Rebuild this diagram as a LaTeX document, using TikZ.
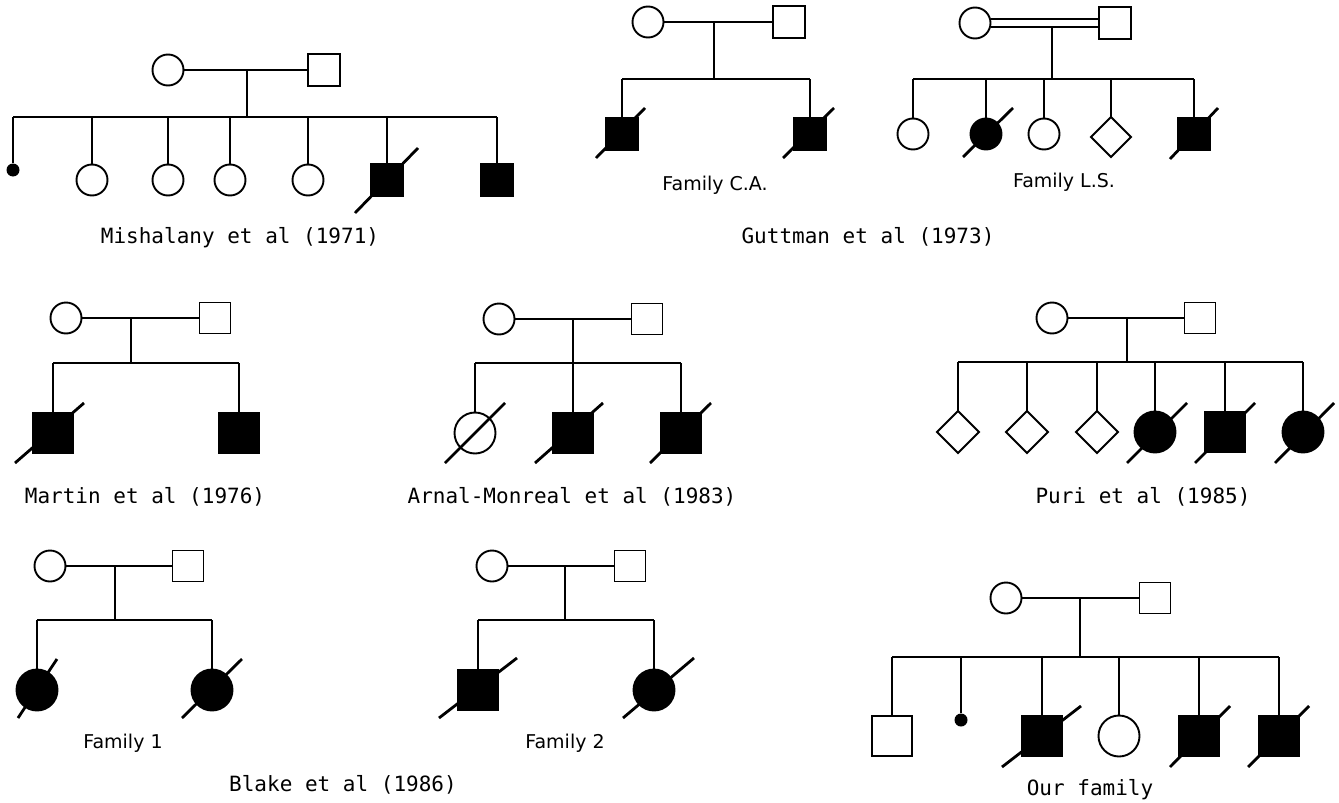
\documentclass[tikz,border=0pt]{standalone}
\usepackage{fontspec}
\setmonofont{DejaVu Sans Mono}
\newfontfamily\famfont{DejaVu Sans}
\usetikzlibrary{shapes.geometric}
\newcommand\deceased[5]{\draw[deadmark] ([shift={(#2,#3)}]#1.center) -- ([shift={(#4,#5)}]#1.center);}
\begin{document}
\begin{tikzpicture}[x=1pt,y=-1pt,
  ln/.style={line width=1.9pt},
  sym/.style={draw, line width=1.9pt, inner sep=0pt, outer sep=0pt},
  fem/.style={sym, circle, minimum size=#1}, fem/.default=31,
  mal/.style={sym, rectangle, minimum size=#1}, mal/.default=32,
  unk/.style={sym, diamond, aspect=1, minimum size=#1}, unk/.default=42,
  aff/.style={fill=black},
  smalldot/.style={circle, fill=black, inner sep=0pt, minimum size=13},
  deadmark/.style={line width=2.8pt},
  lab/.style={font=\fontsize{21}{24}\selectfont\ttfamily, inner sep=0pt},
  flab/.style={font=\fontsize{19}{22}\selectfont\famfont, inner sep=0pt},
]
\path[use as bounding box] (0,0) rectangle (1339,803);

% ---------- Mishalany ----------
\node[fem] (a0) at (168,70) {};
\node[mal] (a1) at (324,70) {};
\draw[ln] (a0) -- (a1);
\coordinate (ad) at (247,70);
\coordinate (as) at (247,117);
\draw[ln] (ad) -- (as);
\node[smalldot] (ac1) at (13,170) {};
\node[fem] (ac2) at (92,180) {};
\node[fem] (ac3) at (168,180) {};
\node[fem] (ac4) at (230,180) {};
\node[fem] (ac5) at (308,180) {};
\node[mal,aff] (ac6) at (387,180) {};
\node[mal,aff] (ac7) at (497,180) {};
\draw[ln] (ac1.north |- as) -- (ac7.north |- as);
\foreach \c in {ac1,ac2,ac3,ac4,ac5,ac6,ac7} \draw[ln] (\c.north) -- (\c.north |- as);
\deceased{ac6}{-32}{33}{31}{-32}
\node[lab] (al) at (240,238) {Mishalany et al (1971)};

% ---------- Guttman C.A. ----------
\node[fem] (b0) at (648,22) {};
\node[mal] (b1) at (789,22) {};
\draw[ln] (b0) -- (b1);
\coordinate (bd) at (714,22);
\coordinate (bs) at (714,79);
\draw[ln] (bd) -- (bs);
\node[mal,aff] (bc1) at (622,134) {};
\node[mal,aff] (bc2) at (810,134) {};
\draw[ln] (bc1.north |- bs) -- (bc2.north |- bs);
\foreach \c in {bc1,bc2} \draw[ln] (\c.north) -- (\c.north |- bs);
\deceased{bc1}{-26}{24}{23}{-26}
\deceased{bc2}{-27}{24}{24}{-26}
\node[flab] (bl) at (715,185) {Family C.A.};

% ---------- Guttman L.S. ----------
\node[fem] (c0) at (975,23) {};
\node[mal] (c1) at (1115,23) {};
\draw[ln] ([yshift=4pt]c0.east) -- ([yshift=4pt]c1.west);
\draw[ln] ([yshift=-4pt]c0.east) -- ([yshift=-4pt]c1.west);
\coordinate (cd) at (1052,27);
\coordinate (cs) at (1052,79);
\draw[ln] (cd) -- (cs);
\node[fem] (cc1) at (913,134) {};
\node[fem,aff] (cc2) at (986,134) {};
\node[fem] (cc3) at (1044,134) {};
\node[unk=40] (cc4) at (1111,137) {};
\node[mal,aff] (cc5) at (1194,134) {};
\draw[ln] (cc1.north |- cs) -- (cc5.north |- cs);
\foreach \c in {cc1,cc2,cc3,cc4,cc5} \draw[ln] (\c.north) -- (\c.north |- cs);
\deceased{cc2}{-23}{23}{27}{-26}
\deceased{cc5}{-24}{25}{24}{-26}
\node[flab] (cl) at (1064,182) {Family L.S.};
\node[lab] (gl) at (868,237) {Guttman et al (1973)};

% ---------- Martin ----------
\node[fem] (d0) at (66,318) {};
\node[mal=31] (d1) at (215,318) {};
\draw[ln] (d0) -- (d1);
\coordinate (dd) at (131,318);
\coordinate (ds) at (131,363);
\draw[ln] (dd) -- (ds);
\node[mal=41,aff] (dc1) at (53,433) {};
\node[mal=41,aff] (dc2) at (239,433) {};
\draw[ln] (dc1.north |- ds) -- (dc2.north |- ds);
\foreach \c in {dc1,dc2} \draw[ln] (\c.north) -- (\c.north |- ds);
\deceased{dc1}{-38}{30}{31}{-30}
\node[lab] (dl) at (145,497) {Martin et al (1976)};

% ---------- Arnal-Monreal ----------
\node[fem] (e0) at (499,319) {};
\node[mal=31] (e1) at (647,319) {};
\draw[ln] (e0) -- (e1);
\coordinate (ed) at (573,319);
\coordinate (es) at (573,363);
\draw[ln] (ed) -- (es);
\node[fem=41] (ec1) at (475,433) {};
\node[mal=41,aff] (ec2) at (573,433) {};
\node[mal=41,aff] (ec3) at (681,433) {};
\draw[ln] (ec1.north |- es) -- (ec3.north |- es);
\foreach \c in {ec1,ec2,ec3} \draw[ln] (\c.north) -- (\c.north |- es);
\deceased{ec1}{-30}{30}{30}{-30}
\deceased{ec2}{-38}{30}{30}{-30}
\deceased{ec3}{-31}{30}{30}{-30}
\node[lab] (el) at (572,497) {Arnal-Monreal et al (1983)};

% ---------- Puri ----------
\node[fem] (f0) at (1052,318) {};
\node[mal=31] (f1) at (1200,318) {};
\draw[ln] (f0) -- (f1);
\coordinate (fd) at (1127,318);
\coordinate (fs) at (1127,362);
\draw[ln] (fd) -- (fs);
\node[unk] (fc1) at (958,432) {};
\node[unk] (fc2) at (1027,432) {};
\node[unk] (fc3) at (1097,432) {};
\node[fem=41,aff] (fc4) at (1155,432) {};
\node[mal=41,aff] (fc5) at (1225,432) {};
\node[fem=41,aff] (fc6) at (1303,432) {};
\draw[ln] (fc1.north |- fs) -- (fc6.north |- fs);
\foreach \c in {fc1,fc2,fc3,fc4,fc5,fc6} \draw[ln] (\c.north) -- (\c.north |- fs);
\deceased{fc4}{-28}{31}{32}{-29}
\deceased{fc5}{-30}{31}{30}{-29}
\deceased{fc6}{-28}{31}{31}{-29}
\node[lab] (fl) at (1143,497) {Puri et al (1985)};

% ---------- Blake Family 1 ----------
\node[fem] (g0) at (50,566) {};
\node[mal=31] (g1) at (188,566) {};
\draw[ln] (g0) -- (g1);
\coordinate (gd) at (115,566);
\coordinate (gs) at (115,620);
\draw[ln] (gd) -- (gs);
\node[fem=41,aff] (gc1) at (37,690) {};
\node[fem=41,aff] (gc2) at (212,690) {};
\draw[ln] (gc1.north |- gs) -- (gc2.north |- gs);
\foreach \c in {gc1,gc2} \draw[ln] (\c.north) -- (\c.north |- gs);
\deceased{gc1}{-19}{28}{20}{-31}
\deceased{gc2}{-30}{28}{30}{-31}
\node[flab] (gl) at (123,743) {Family 1};

% ---------- Blake Family 2 ----------
\node[fem] (h0) at (492,566) {};
\node[mal=31] (h1) at (630,566) {};
\draw[ln] (h0) -- (h1);
\coordinate (hd) at (565,566);
\coordinate (hs) at (565,620);
\draw[ln] (hd) -- (hs);
\node[mal=41,aff] (hc1) at (478,690) {};
\node[fem=41,aff] (hc2) at (654,690) {};
\draw[ln] (hc1.north |- hs) -- (hc2.north |- hs);
\foreach \c in {hc1,hc2} \draw[ln] (\c.north) -- (\c.north |- hs);
\deceased{hc1}{-39}{28}{39}{-32}
\deceased{hc2}{-31}{28}{40}{-32}
\node[flab] (hl) at (565,743) {Family 2};
\node[lab] (bll) at (343,785) {Blake et al (1986)};

% ---------- Our family ----------
\node[fem] (k0) at (1006,598) {};
\node[mal=31] (k1) at (1155,598) {};
\draw[ln] (k0) -- (k1);
\coordinate (kd) at (1080,598);
\coordinate (ks) at (1080,657);
\draw[ln] (kd) -- (ks);
\node[mal=40] (kc1) at (892,736) {};
\node[smalldot] (kc2) at (961,720) {};
\node[mal=41,aff] (kc3) at (1042,736) {};
\node[fem=41] (kc4) at (1119,736) {};
\node[mal=41,aff] (kc5) at (1199,736) {};
\node[mal=41,aff] (kc6) at (1279,736) {};
\draw[ln] (kc1.north |- ks) -- (kc6.north |- ks);
\foreach \c in {kc1,kc2,kc3,kc4,kc5,kc6} \draw[ln] (\c.north) -- (\c.north |- ks);
\deceased{kc3}{-40}{31}{39}{-30}
\deceased{kc5}{-29}{31}{31}{-30}
\deceased{kc6}{-31}{31}{30}{-30}
\node[lab] (kl) at (1090,790) {Our family};
\end{tikzpicture}
\end{document}
